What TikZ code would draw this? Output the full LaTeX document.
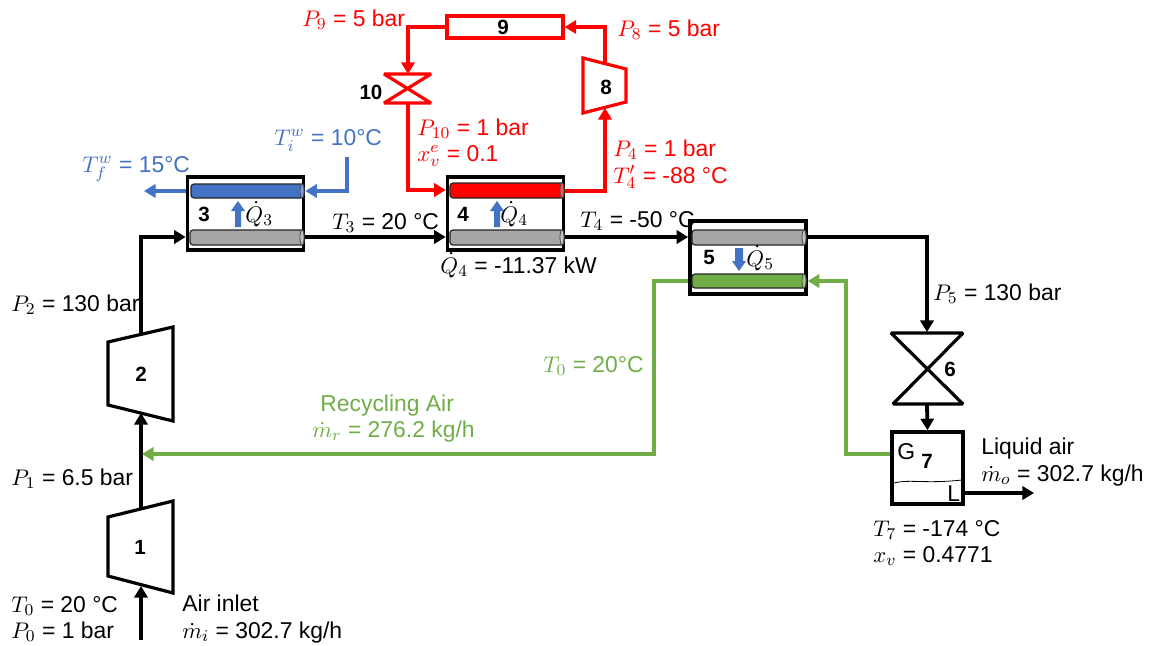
\documentclass[tikz,border=0pt]{standalone}
\usepackage{fontspec}
\setmainfont{Liberation Sans}
\usetikzlibrary{arrows.meta}
\newlength{\px}\setlength{\px}{.485pt}
\definecolor{cblue}{HTML}{4472C4}
\definecolor{cgreen}{HTML}{70AD47}
\definecolor{cred}{HTML}{FF0000}
\definecolor{cgray}{HTML}{A6A6A6}
\tikzset{
  lbl/.style={anchor=base west,inner sep=0pt,font=\fontsize{11.1}{13}\selectfont},
  num/.style={inner sep=0pt,font=\fontsize{10}{12}\selectfont\bfseries},
  bx/.style={draw,line width=3.6\px,minimum width=116\px,minimum height=73\px,inner sep=0pt},
  pipe/.style={line width=3.8\px,-{Triangle[length=5.6pt,width=6.4pt]}},
  mach/.style={line width=3.2\px,line join=miter},
  cylb/.style={draw=black!85,line width=1.2\px,rounded corners=3\px},
}
\newcommand{\cyl}[5]{%
  \draw[cylb,fill=#5] (#1,#2) rectangle (#3,#4);
  \draw[draw=black!70,line width=.8\px,fill=#5!70!white] ({#3-2},{(#2+#4)/2}) ellipse [x radius=2, y radius={(#4-#2)/2}];
}
\newcommand{\qup}[3]{\fill[cblue] ({#1-3},#3) -- ({#1-3},{#2+10}) -- ({#1-7},{#2+10}) -- (#1,#2) -- ({#1+7},{#2+10}) -- ({#1+3},{#2+10}) -- ({#1+3},#3) -- cycle;}
\newcommand{\qdn}[3]{\fill[cblue] ({#1-4},#2) -- ({#1-4},{#3-10}) -- ({#1-7},{#3-10}) -- (#1,#3) -- ({#1+7},{#3-10}) -- ({#1+4},{#3-10}) -- ({#1+4},#2) -- cycle;}
\begin{document}
\begin{tikzpicture}[x=.485pt,y=-.485pt]
\useasboundingbox (0,0) rectangle (1150,646);
% ports
\coordinate (in1) at (141,640);
\coordinate (c1in) at (141,586);
\coordinate (c1out) at (141,509);
\coordinate (c2in) at (141,413);
\coordinate (c2out) at (141,334);
\coordinate (b23) at (141,237);
\coordinate (g1) at (654,281);
\coordinate (g2) at (654,454);
\coordinate (g3) at (142,454);
\coordinate (g4) at (846,454);
\coordinate (g5) at (846,281);
\coordinate (k1) at (927,237);
\coordinate (k2) at (927,332);
\coordinate (k3) at (927,405);
\coordinate (w1) at (347,157);
\coordinate (w2) at (347,191);
\coordinate (wo) at (144,191);
\coordinate (r1) at (408,27);
\coordinate (r2) at (408,74);
\coordinate (r3) at (408,103);
\coordinate (r4) at (408,190);
\coordinate (r5) at (605,191);
\coordinate (r6) at (605,108);
\coordinate (r7) at (605,63);
\coordinate (r8) at (605,27);
\coordinate (lo) at (1034,493);
% cylinders are drawn first
\node[bx,fill=white] (hx3) at (245.5,213.5) {};
\node[bx,fill=white] (hx4) at (505.5,213.5) {};
\node[bx,fill=white] (hx5) at (748,257.5) {};
\cyl{191}{184}{304}{198}{cblue}
\cyl{190}{230}{304}{245}{cgray}
\cyl{450}{183}{564}{198}{cred}
\cyl{450}{230}{564}{245}{cgray}
\cyl{692}{230}{806}{245}{cgray}
\cyl{692}{274}{806}{288}{cgreen}
\qup{238}{201}{227}
\qup{497}{201}{227}
\qdn{739}{248}{271}
% machines
\draw[mach] (108,517) -- (173,501) -- (173,593) -- (108,576) -- cycle;
\draw[mach] (108,342) -- (173,327) -- (173,421) -- (108,405) -- cycle;
\draw[mach,cred] (583,58) -- (626,69) -- (626,102) -- (583,113) -- cycle;
\draw[mach,line join=bevel] (891,333) -- (963,333) -- (893,404) -- (963,404) -- cycle;
\draw[mach,cred,line join=bevel] (384,74) -- (431,74) -- (384,103) -- (431,103) -- cycle;
\node[draw=cred,line width=3.2\px,minimum width=116\px,minimum height=22\px,inner sep=0pt] (cool9) at (505,27) {};
\node[draw,line width=3.6\px,minimum width=71\px,minimum height=72\px,inner sep=0pt] (tank) at (927.5,468) {};
\draw[line width=.8\px] (894,483) .. controls (910,479) and (925,484) .. (962,480);
% numbers
\node[num] (n1) at (140,547) {1};
\node[num] (n2) at (141,374) {2};
\node[num] (n3) at (204,214) {3};
\node[num] (n4) at (463,214) {4};
\node[num] (n5) at (709,258) {5};
\node[num] (n6) at (950,369) {6};
\node[num] (n7) at (927,461) {7};
\node[num] (n8) at (606,87) {8};
\node[num] (n9) at (503,27) {9};
\node[num] (n10) at (371,92) {10};
\node[lbl] (gG) at (897,459) {G};
\node[lbl] (gL) at (947,501) {L};
\node[lbl] (q3) at (245,222) {$\dot Q_3$};
\node[lbl] (q4) at (500,222) {$\dot Q_4$};
\node[lbl] (q5) at (746,266) {$\dot Q_5$};
% black connectors
\draw[pipe] (in1) -- (c1in);
\draw[pipe] (c1out) -- (c2in);
\draw[pipe] (c2out) |- (hx3.west |- b23);
\draw[pipe] (hx3.east |- b23) -- (hx4.west |- b23);
\draw[pipe] (hx4.east |- b23) -- (hx5.west |- b23);
\draw[pipe] (hx5.east |- b23) -| (k2);
\draw[pipe] (k3) -- (tank.north);
\draw[pipe] (tank.east |- lo) -- (lo);
% green
\draw[pipe,cgreen] (hx5.west |- g1) -- (g1) -- (g2) -- (g3);
\draw[pipe,cgreen] (tank.west |- g4) -- (g4) -- (g5) -- (hx5.east |- g5);
% blue
\draw[pipe,cblue] (w1) -- (w2) -- (hx3.east |- w2);
\draw[pipe,cblue] (hx3.west |- wo) -- (wo);
% red
\draw[pipe,cred] (cool9.west) -- (r1) -- (r2);
\draw[pipe,cred] (r3) -- (r4) -- (hx4.west |- r4);
\draw[pipe,cred] (hx4.east |- r5) -- (r5) -- (r6);
\draw[pipe,cred] (r7) -- (r8) -- (cool9.east);
% labels
\begin{scope}[every node/.append style={lbl}]
\node[cred] (lp9) at (302,26) {$P_9$ = 5 bar};
\node[cred] (lp8) at (617,36) {$P_8$ = 5 bar};
\node[cred] (lp10) at (417,135) {$P_{10}$ = 1 bar};
\node[cred] (lxv) at (417,161) {$x_v^e$ = 0.1};
\node[cred] (lp4) at (613,156) {$P_4$ = 1 bar};
\node[cred] (lt4p) at (613,183) {$T_4'$ = -88 °C};
\node[cblue] (lti) at (274,145) {$T_i^w$ = 10°C};
\node[cblue] (ltf) at (82,172) {$T_f^w$ = 15°C};
\node (lt3) at (332,229) {$T_3$ = 20 °C};
\node (lt4) at (580,227) {$T_4$ = -50 °C};
\node (lq4) at (440,273) {$\dot Q_4$ = -11.37 kW};
\node (lp2) at (11,311) {$P_2$ = 130 bar};
\node[cgreen] (lt0g) at (543,372) {$T_0$ = 20°C};
\node[cgreen] (lra) at (320,411) {Recycling Air};
\node[cgreen] (lmr) at (312,437) {$\dot m_r$ = 276.2 kg/h};
\node (lp5) at (933,300) {$P_5$ = 130 bar};
\node (lp1) at (11,485) {$P_1$ = 6.5 bar};
\node (lt0) at (11,612) {$T_0$ = 20 °C};
\node (lp0) at (11,638) {$P_0$ = 1 bar};
\node (lai) at (182,611) {Air inlet};
\node (lmi) at (182,638) {$\dot m_i$ = 302.7 kg/h};
\node (lla) at (981,454) {Liquid air};
\node (lmo) at (981,481) {$\dot m_o$ = 302.7 kg/h};
\node (lt7) at (873,536) {$T_7$ = -174 °C};
\node (lxv7) at (873,562) {$x_v$ = 0.4771};
\end{scope}
\end{tikzpicture}
\end{document}
